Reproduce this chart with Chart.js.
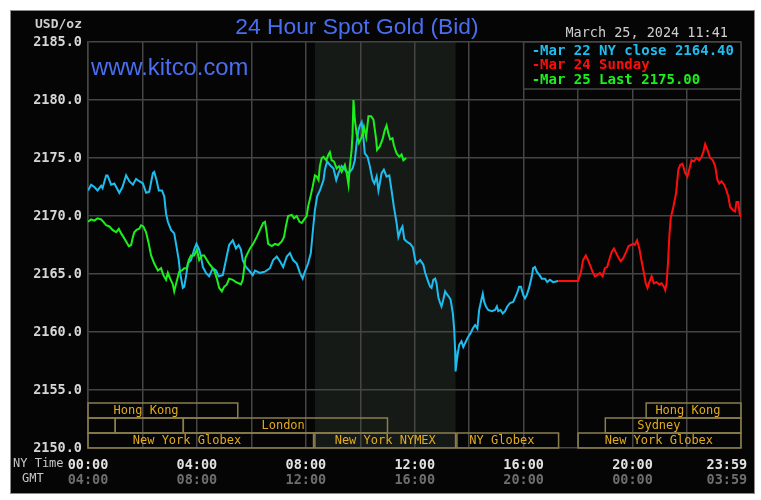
<!DOCTYPE html>
<html>
<head>
<meta charset="utf-8">
<script src="https://cdn.jsdelivr.net/npm/chart.js@4.4.1/dist/chart.umd.min.js"></script>
<style>
  html, body { margin: 0; background: #fff; }
</style>
</head>
<body>
<canvas id="goldChart" width="761" height="500"></canvas>
<script>
// minutes after midnight, NY time
const gridTimes = [0, 120, 240, 360, 480, 600, 720, 840, 960, 1080, 1200, 1320, 1439];
const labelTimes = [0, 240, 480, 720, 960, 1200, 1408];
const nyLabels = ['00:00', '04:00', '08:00', '12:00', '16:00', '20:00', '23:59'];
const gmtLabels = ['04:00', '08:00', '12:00', '16:00', '20:00', '00:00', '03:59'];

const mar22Times = [0,7,14,21,29,32,40,43,51,58,69,76,84,91,99,106,113,121,128,135,143,146,151,156,163,168,172,176,183,190,194,200,203,209,212,216,220,227,234,239,245,249,253,260,267,275,282,288,297,304,311,319,326,332,337,341,348,355,363,368,379,390,401,408,416,423,430,438,445,452,460,467,473,478,485,491,495,500,505,511,519,522,527,533,541,547,552,559,566,574,577,583,588,592,596,599,603,607,610,616,621,627,631,636,640,643,647,652,658,664,669,674,680,684,689,693,697,702,710,716,721,724,732,739,743,750,754,757,761,765,768,772,776,779,783,787,790,796,799,804,807,809,810,814,818,823,827,833,838,843,848,853,858,862,867,870,873,877,882,890,897,901,904,909,914,919,924,930,937,945,950,954,959,963,967,972,978,981,985,989,995,1000,1007,1012,1018,1025,1036];
const mar22Values = [2172.2,2172.7,2172.5,2172.2,2172.6,2172.4,2173.5,2173.5,2172.7,2172.8,2172.0,2172.5,2173.5,2173.0,2172.7,2173.2,2173.0,2172.8,2172.0,2172.1,2173.7,2173.8,2173.1,2172.2,2172.2,2171.7,2170.2,2169.5,2168.8,2168.5,2167.6,2166.2,2165.1,2163.8,2163.9,2164.8,2165.9,2166.2,2167.1,2167.6,2167.1,2166.5,2165.6,2165.1,2164.8,2165.5,2165.3,2164.8,2164.9,2166.2,2167.5,2167.9,2167.2,2167.5,2167.1,2166.2,2165.6,2165.3,2164.9,2165.3,2165.1,2165.2,2165.5,2166.2,2166.5,2166.1,2165.6,2166.5,2166.8,2166.2,2165.9,2165.1,2164.6,2165.2,2165.9,2166.8,2168.5,2170.5,2171.7,2172.2,2173.1,2174.0,2174.7,2174.4,2174.1,2173.1,2173.7,2174.3,2174.0,2173.7,2173.8,2174.1,2174.8,2176.3,2177.4,2177.8,2178.1,2176.7,2175.4,2175.1,2174.3,2173.1,2172.8,2173.4,2172.2,2172.8,2173.7,2174.0,2173.4,2173.5,2172.2,2170.8,2169.4,2168.2,2168.8,2169.1,2168.0,2167.8,2167.6,2167.3,2166.2,2165.9,2166.2,2165.8,2165.1,2164.3,2163.9,2163.8,2164.5,2164.6,2164.2,2163.0,2162.5,2162.2,2162.8,2163.5,2163.3,2163.0,2162.8,2161.6,2160.2,2158.4,2156.6,2157.9,2158.9,2159.2,2158.7,2159.2,2159.6,2159.9,2160.3,2160.6,2160.3,2161.9,2162.8,2163.3,2162.6,2162.2,2161.9,2161.8,2161.9,2162.2,2161.8,2161.9,2161.6,2161.8,2162.2,2162.5,2162.6,2163.3,2163.9,2163.9,2163.2,2162.9,2163.2,2163.8,2164.8,2165.5,2165.6,2165.2,2164.9,2164.6,2164.6,2164.3,2164.5,2164.3,2164.4];

const mar24Times = [1036,1080,1086,1091,1097,1102,1108,1113,1117,1122,1128,1134,1139,1144,1150,1154,1159,1164,1169,1174,1180,1186,1191,1196,1202,1205,1210,1215,1220,1224,1229,1233,1237,1242,1247,1253,1259,1264,1269,1272,1275,1278,1281,1284,1290,1296,1301,1305,1310,1316,1321,1325,1330,1335,1341,1347,1352,1356,1360,1365,1371,1377,1382,1387,1391,1396,1402,1407,1411,1415,1421,1426,1429,1433,1436,1439];
const mar24Values = [2164.4,2164.4,2165.1,2166.2,2166.6,2166.2,2165.6,2165.1,2164.8,2164.9,2165.1,2164.8,2165.5,2165.6,2166.4,2166.9,2167.2,2166.8,2166.4,2166.1,2166.4,2166.9,2167.4,2167.5,2167.6,2167.5,2167.9,2167.2,2166.1,2165.3,2164.2,2163.8,2164.3,2164.8,2164.2,2164.3,2164.1,2164.2,2163.9,2163.6,2164.2,2165.9,2168.2,2169.8,2170.8,2172.0,2174.0,2174.4,2174.5,2173.7,2173.4,2174.0,2174.8,2174.7,2175.0,2174.8,2175.1,2175.5,2176.2,2175.7,2175.0,2174.8,2174.3,2173.1,2172.8,2173.0,2172.7,2172.2,2171.7,2170.8,2170.5,2170.4,2171.2,2171.2,2170.2,2169.9];

const mar25Times = [0,7,14,21,29,34,40,47,54,62,68,73,78,84,90,95,99,102,107,113,117,122,128,134,139,146,154,161,166,172,176,181,187,190,195,201,207,212,218,222,227,234,240,245,251,256,262,267,273,278,284,289,295,300,306,311,319,326,332,337,341,347,352,357,364,372,379,386,390,394,397,405,412,419,427,432,436,441,449,454,460,466,471,478,482,485,491,495,500,504,508,511,515,519,525,530,533,537,542,548,553,559,566,570,574,577,581,583,585,588,592,597,603,608,613,618,624,629,635,637,643,649,654,658,662,666,671,674,680,686,691,695,701];
const mar25Values = [2169.5,2169.7,2169.6,2169.8,2169.7,2169.5,2169.2,2169.1,2168.8,2168.6,2168.9,2168.5,2168.2,2167.8,2167.4,2167.5,2168.2,2168.6,2168.8,2168.9,2169.2,2169.1,2168.6,2167.6,2166.6,2165.9,2165.3,2165.5,2164.9,2164.5,2165.1,2164.6,2164.1,2163.5,2164.3,2165.2,2165.3,2165.5,2165.5,2166.2,2166.6,2166.6,2167.1,2166.2,2166.6,2166.6,2166.2,2165.9,2165.6,2165.3,2164.6,2163.8,2163.5,2163.9,2164.1,2164.6,2164.5,2164.3,2164.2,2164.1,2164.5,2166.4,2166.8,2167.2,2167.6,2168.2,2168.8,2169.4,2169.5,2168.5,2167.6,2167.4,2167.6,2167.5,2167.8,2168.2,2169.1,2170.0,2170.1,2169.8,2170.0,2169.5,2169.4,2169.8,2170.0,2170.8,2171.8,2172.5,2173.5,2173.4,2173.1,2174.3,2175.0,2175.1,2174.8,2175.3,2175.5,2174.8,2174.7,2174.1,2174.3,2173.8,2174.4,2173.7,2172.7,2174.3,2175.7,2177.1,2180.0,2178.3,2177.1,2176.3,2176.8,2177.7,2176.8,2178.6,2178.6,2178.3,2176.6,2175.7,2176.0,2176.6,2177.4,2177.8,2177.1,2176.6,2176.7,2176.1,2175.4,2175.1,2175.3,2174.8,2175.0];

const legendLines = ['-Mar 22 NY close 2164.40', '-Mar 24 Sunday', '-Mar 25 Last 2175.00'];

// trading sessions: [row, start, end, label, label centre]
const sessions = [
  [0, 0, 330, 'Hong Kong', 128],
  [0, 1230, 1439, 'Hong Kong', 1322],
  [1, 0, 60, '', 0],
  [1, 60, 210, '', 0],
  [1, 210, 660, 'London', 430],
  [1, 1140, 1439, 'Sydney', 1258],
  [2, 0, 497, 'New York Globex', 218],
  [2, 500, 810, 'New York NYMEX', 655],
  [2, 813, 1037, 'NY Globex', 912],
  [2, 1080, 1439, 'New York Globex', 1258]
];
const nymexOpen = 500, nymexClose = 810;

const cyan = '#1ebdf0', red = '#ff0d0d', green = '#1cf01c';
const gridColor = '#454545';
const mono = '"DejaVu Sans Mono", monospace';

const toPoints = (times, values) => times.map((t, i) => ({ x: t, y: values[i] }));

const decor = {
  id: 'decor',
  beforeDraw(chart) {
    const { ctx, chartArea: a } = chart;
    const x = chart.scales.x;
    ctx.save();
    ctx.fillStyle = '#fff';
    ctx.fillRect(0, 0, chart.width, chart.height);
    ctx.fillStyle = '#050505';
    ctx.fillRect(10, 10, 744, 483);
    ctx.strokeStyle = '#8c8c8c';
    ctx.lineWidth = 1;
    ctx.strokeRect(10.5, 10.5, 744, 483);
    const x0 = x.getPixelForValue(nymexOpen), x1 = x.getPixelForValue(nymexClose);
    ctx.fillStyle = '#161a16';
    ctx.fillRect(x0, a.top, x1 - x0, a.bottom - a.top);
    ctx.restore();
  },
  beforeDatasetsDraw(chart) {
    const { ctx, chartArea: a } = chart;
    const x = chart.scales.x;
    ctx.save();
    // legend box
    const lx = x.getPixelForValue(960);
    ctx.fillStyle = '#050505';
    ctx.fillRect(lx, a.top, a.right - lx, 47);
    ctx.strokeStyle = gridColor;
    ctx.lineWidth = 1.5;
    ctx.strokeRect(lx, a.top, a.right - lx, 47);
    ctx.font = 'bold 14px ' + mono;
    ctx.textBaseline = 'middle';
    [cyan, red, green].forEach((c, i) => {
      ctx.fillStyle = c;
      ctx.fillText(legendLines[i], lx + 8, a.top + 9 + i * 14.5);
    });
    // session boxes
    const rowH = 15;
    ctx.strokeStyle = '#8a7f4c';
    ctx.lineWidth = 1.5;
    ctx.font = '12px ' + mono;
    ctx.textAlign = 'center';
    sessions.forEach(([row, s, e, label, mid]) => {
      const top = a.bottom - (3 - row) * rowH;
      const sx = x.getPixelForValue(s), ex = x.getPixelForValue(e);
      ctx.strokeRect(sx, top, ex - sx, rowH);
      if (label) {
        ctx.fillStyle = '#e2ab1e';
        ctx.fillText(label, x.getPixelForValue(mid), top + rowH / 2 + 0.5);
      }
    });
    ctx.restore();
  },
  afterDraw(chart) {
    const { ctx } = chart;
    ctx.save();
    ctx.textBaseline = 'middle';
    ctx.fillStyle = '#4a6ef0';
    ctx.font = '22.8px "Liberation Sans", Arial, sans-serif';
    ctx.textAlign = 'center';
    ctx.fillText('24 Hour Spot Gold (Bid)', 357, 28);
    ctx.font = '23.8px "Liberation Sans", Arial, sans-serif';
    ctx.textAlign = 'left';
    ctx.fillText('www.kitco.com', 91, 68);
    ctx.fillStyle = '#cfcfcf';
    ctx.font = '13.5px ' + mono;
    ctx.textAlign = 'right';
    ctx.fillText('March 25, 2024 11:41', 728, 33);
    ctx.font = 'bold 13px ' + mono;
    ctx.fillText('USD/oz', 82, 25);
    ctx.font = '12px ' + mono;
    ctx.textAlign = 'left';
    ctx.fillStyle = '#c8c8c8';
    ctx.fillText('NY Time', 13, 464);
    ctx.fillText('GMT', 22, 479);
    ctx.restore();
  }
};

new Chart(document.getElementById('goldChart'), {
  type: 'line',
  data: {
    datasets: [
      { label: 'Mar 25', data: toPoints(mar25Times, mar25Values), borderColor: green, order: 0 },
      { label: 'Mar 24', data: toPoints(mar24Times, mar24Values), borderColor: red, order: 1 },
      { label: 'Mar 22', data: toPoints(mar22Times, mar22Values), borderColor: cyan, order: 2 }
    ]
  },
  options: {
    responsive: false,
    animation: false,
    devicePixelRatio: 1,
    layout: { padding: { left: 0, right: 20, top: 42, bottom: 14 } },
    elements: {
      line: { borderWidth: 2, tension: 0 },
      point: { radius: 0, hoverRadius: 0 }
    },
    plugins: { legend: { display: false }, tooltip: { enabled: false } },
    scales: {
      x: {
        type: 'linear', min: 0, max: 1439, position: 'bottom', weight: 0,
        afterBuildTicks: s => { s.ticks = gridTimes.map(v => ({ value: v })); },
        grid: { color: gridColor, lineWidth: 1.5, drawTicks: false },
        border: { display: false },
        ticks: { display: false },
        afterFit: s => { s.height = 0; }
      },
      ny: {
        type: 'linear', min: 0, max: 1439, position: 'bottom', weight: 1,
        afterBuildTicks: s => { s.ticks = labelTimes.map(v => ({ value: v })); },
        grid: { display: false, drawTicks: false },
        border: { display: false },
        ticks: {
          autoSkip: false, maxRotation: 0, padding: 9, color: '#e2e2e2',
          font: { family: mono, size: 13.5, weight: 'bold' },
          callback: (v, i) => nyLabels[i]
        },
        afterFit: s => { s.height = 22; }
      },
      gmt: {
        type: 'linear', min: 0, max: 1439, position: 'bottom', weight: 2,
        afterBuildTicks: s => { s.ticks = labelTimes.map(v => ({ value: v })); },
        grid: { display: false, drawTicks: false },
        border: { display: false },
        ticks: {
          autoSkip: false, maxRotation: 0, padding: 2, color: '#6e6e6e',
          font: { family: mono, size: 13.5, weight: 'bold' },
          callback: (v, i) => gmtLabels[i]
        },
        afterFit: s => { s.height = 16; }
      },
      y: {
        min: 2150, max: 2185, position: 'left',
        grid: { color: gridColor, lineWidth: 1.5, drawTicks: false },
        border: { color: gridColor, width: 1.5 },
        ticks: {
          stepSize: 5, padding: 6, color: '#d6d6d6',
          font: { family: mono, size: 13.5, weight: 'bold' },
          callback: v => v.toFixed(1)
        },
        afterFit: s => { s.width = 88; }
      }
    }
  },
  plugins: [decor]
});
</script>
</body>
</html>
